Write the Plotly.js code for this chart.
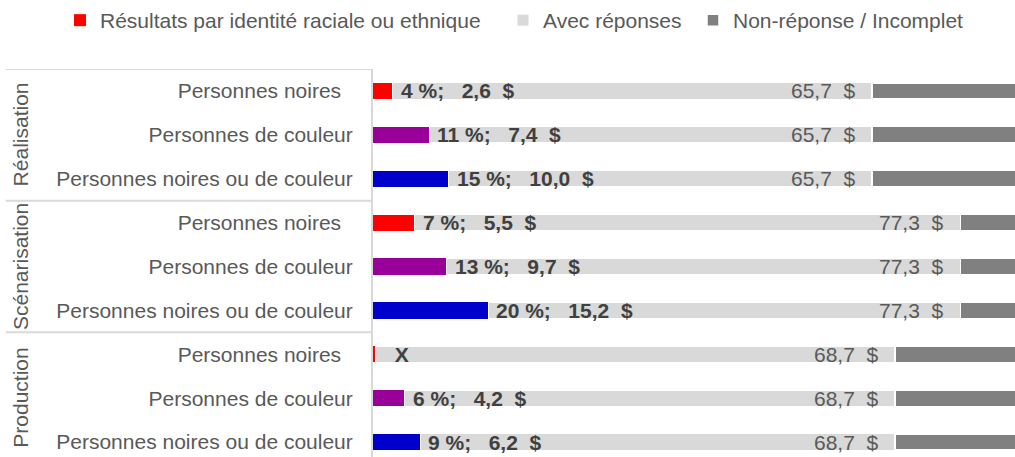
<!DOCTYPE html>
<html>
<head>
<meta charset="utf-8">
<script src="https://cdn.plot.ly/plotly-3.0.1.min.js"></script>
<style>
  html, body { margin: 0; padding: 0; background: #ffffff; }
  #chart { width: 1015px; height: 457px; }
</style>
</head>
<body>
<div id="chart"></div>
<script>
// ---- Data ----
const groups = ['Réalisation', 'Scénarisation', 'Production'];
const subcats = ['Personnes noires', 'Personnes de couleur', 'Personnes noires ou de couleur'];
const subcatLabels = ['Personnes noires\u00a0\u00a0', 'Personnes de couleur', 'Personnes noires ou de couleur'];
const raceColors = ['#FF0000', '#990099', '#0000CC'];

// values per row (group x subcategory), in millions $
const racePct    = ['4 %', '11 %', '15 %', '7 %', '13 %', '20 %', 'X', '6 %', '9 %'];
const raceAmount = [2.6, 7.4, 10.0, 5.5, 9.7, 15.2, 0.3, 4.2, 6.2];
const raceAmountText = ['2,6', '7,4', '10,0', '5,5', '9,7', '15,2', '', '4,2', '6,2'];
const withResponses = [65.7, 65.7, 65.7, 77.3, 77.3, 77.3, 68.7, 68.7, 68.7];
const withResponsesText = ['65,7', '65,7', '65,7', '77,3', '77,3', '77,3', '68,7', '68,7', '68,7'];
const nonResponse = [34.3, 34.3, 34.3, 22.7, 22.7, 22.7, 31.3, 31.3, 31.3];

const legendNames = ['Résultats par identité raciale ou ethnique', 'Avec réponses', 'Non-réponse / Incomplet'];

// ---- Build ----
const rows = raceAmount.map((_, i) => i);
const rowColors = rows.map(i => raceColors[i % subcats.length]);
const tickText = rows.map(i => subcatLabels[i % subcats.length]);
const grayPart = rows.map(i => withResponses[i] - raceAmount[i]);

const FONT = 'Liberation Sans, Arial, sans-serif';
const NB = '\u00a0';

const traces = [
  {
    type: 'bar', orientation: 'h', name: legendNames[0], legend: 'legend',
    y: rows, x: raceAmount,
    marker: { color: rowColors, line: { width: 0 } },
    width: 0.37, hoverinfo: 'skip'
  },
  {
    type: 'bar', orientation: 'h', name: legendNames[1], legend: 'legend2',
    y: rows, x: grayPart,
    marker: { color: '#D9D9D9', line: { color: '#ffffff', width: 1 } },
    width: 0.37, hoverinfo: 'skip'
  },
  {
    type: 'bar', orientation: 'h', name: legendNames[2], legend: 'legend3',
    y: rows, x: nonResponse,
    marker: { color: '#808080', line: { color: '#ffffff', width: 1.5 } },
    width: 0.37, hoverinfo: 'skip'
  }
];

const annotations = [];
rows.forEach(i => {
  const lbl = racePct[i] === 'X'
    ? NB + NB + 'X'
    : racePct[i] + ';' + NB + NB + NB + raceAmountText[i] + NB + NB + '$';
  annotations.push({
    x: raceAmount[i], y: i, xref: 'x', yref: 'y',
    text: '<b>' + lbl + '</b>', showarrow: false,
    xanchor: 'left', yanchor: 'middle', xshift: 6,
    font: { family: FONT, size: 21, color: '#404040' }
  });
  annotations.push({
    x: withResponses[i], y: i, xref: 'x', yref: 'y',
    text: withResponsesText[i] + NB + NB + '$', showarrow: false,
    xanchor: 'right', yanchor: 'middle', xshift: -14,
    font: { family: FONT, size: 21, color: '#595959' }
  });
});
groups.forEach((g, gi) => {
  annotations.push({
    x: -0.549, y: gi * subcats.length + (subcats.length - 1) / 2,
    xref: 'paper', yref: 'y', text: g, showarrow: false, textangle: -90,
    xanchor: 'center', yanchor: 'middle',
    font: { family: FONT, size: 21, color: '#595959' }
  });
});

const shapes = [];
for (let gi = 0; gi < groups.length; gi++) {
  const yy = gi * subcats.length - 0.5;
  shapes.push({
    type: 'line', xref: 'paper', yref: 'y',
    x0: -0.572, x1: 0, y0: yy, y1: yy,
    line: { color: '#D9D9D9', width: 2 }
  });
}

function legendAt(px) {
  return {
    orientation: 'h', xref: 'container', yref: 'container',
    x: px / 1015, xanchor: 'left', y: 1, yanchor: 'top',
    font: { family: FONT, size: 21, color: '#595959' },
    itemclick: false, itemdoubleclick: false, bgcolor: 'rgba(0,0,0,0)'
  };
}

const layout = {
  width: 1015, height: 457,
  margin: { l: 373, r: 0, t: 69, b: 0, pad: 0 },
  paper_bgcolor: '#ffffff', plot_bgcolor: '#ffffff',
  barmode: 'stack',
  showlegend: true,
  legend: legendAt(60),
  legend2: legendAt(503),
  legend3: legendAt(693),
  xaxis: {
    range: [0, 84.5], showgrid: false, zeroline: false, showline: false,
    showticklabels: false, ticks: '', fixedrange: true
  },
  yaxis: {
    range: [8.34, -0.5], tickmode: 'array', tickvals: rows, ticktext: tickText,
    showgrid: false, zeroline: false, showline: true, linecolor: '#D9D9D9', linewidth: 2,
    ticks: '', ticklabelstandoff: 14,
    tickfont: { family: FONT, size: 21, color: '#595959' },
    fixedrange: true
  },
  annotations: annotations,
  shapes: shapes,
  font: { family: FONT, color: '#595959' }
};

Plotly.newPlot('chart', traces, layout, { displayModeBar: false, staticPlot: true });
</script>
</body>
</html>
